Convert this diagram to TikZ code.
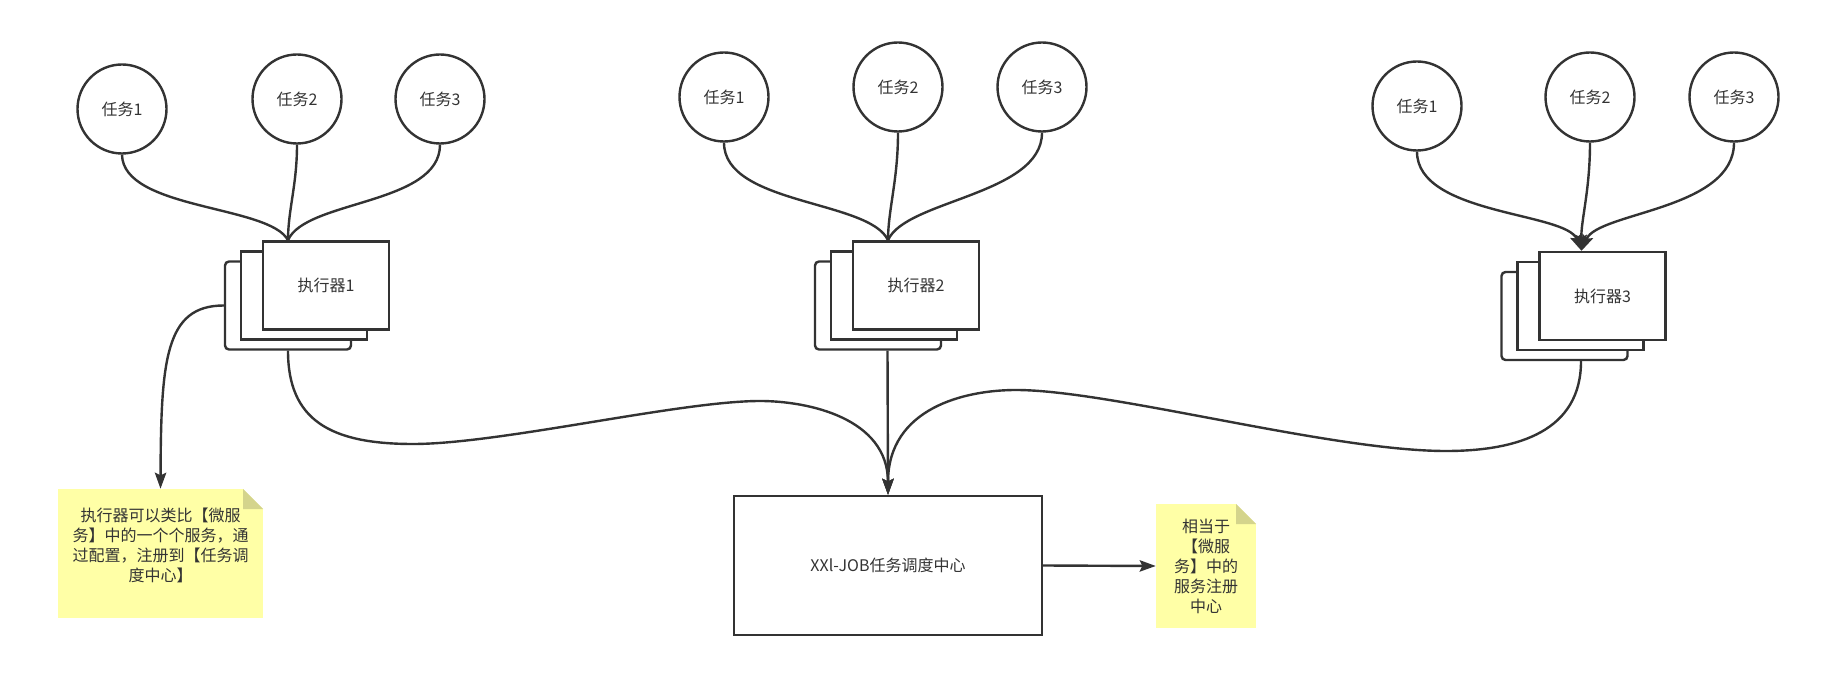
\documentclass[tikz,border=0pt]{standalone}
\usepackage{fontspec}
\setmainfont{Noto Sans CJK SC}
\usetikzlibrary{arrows.meta,calc}
\definecolor{ink}{HTML}{333333}
\definecolor{noteyellow}{HTML}{FFFFA6}
\definecolor{notefold}{HTML}{D4D48C}
\begin{document}
\begin{tikzpicture}[x=0.75pt,y=-0.75pt,
  every node/.style={text=ink,font=\fontsize{12}{15}\selectfont},
  task/.style={circle,draw=ink,line width=1.8pt,fill=white,minimum size=66.75pt,inner sep=0pt},
  card/.style={rectangle,draw=ink,line width=1.8pt,fill=white,minimum width=94.5pt,minimum height=66pt,inner sep=0pt},
  cardback/.style={card,rounded corners=3pt},
  hub/.style={rectangle,draw=ink,line width=1.8pt,fill=white,minimum width=231pt,minimum height=104.25pt},
  wire/.style={draw=ink,line width=1.8pt},
  tip/.style={-{Stealth[length=12pt,width=8.5pt,inset=2pt]}},
  notebox/.style={rectangle,fill=noteyellow,inner sep=0pt,
    path picture={
      \fill[white] ([xshift=-15pt]path picture bounding box.north east) -- (path picture bounding box.north east) -- ([yshift=-15pt]path picture bounding box.north east) -- cycle;
      \fill[notefold] ([xshift=-15pt]path picture bounding box.north east) -- ([xshift=-15pt,yshift=-15pt]path picture bounding box.north east) -- ([yshift=-15pt]path picture bounding box.north east) -- cycle;
    }},
  notetext/.style={align=center,inner sep=0pt}
]
\useasboundingbox (0,0) rectangle (1845,691);

% tasks
\node[task] (t11) at (122,109) {任务1};
\node[task] (t12) at (297,99) {任务2};
\node[task] (t13) at (440,99) {任务3};
\node[task] (t21) at (724,97) {任务1};
\node[task] (t22) at (898,87) {任务2};
\node[task] (t23) at (1042,87) {任务3};
\node[task] (t31) at (1417,106) {任务1};
\node[task] (t32) at (1590,97) {任务2};
\node[task] (t33) at (1734,97) {任务3};

% executor 1
\node[cardback] (b1) at (288,305.5) {};
\node[card] (m1) at (304,295.5) {};
\node[card] (f1) at (326,285.5) {执行器1};
% executor 2
\node[cardback] (b2) at (878,305.5) {};
\node[card] (m2) at (894,295.5) {};
\node[card] (f2) at (916,285.5) {执行器2};
% executor 3
\node[cardback] (b3) at (1564.5,316) {};
\node[card] (m3) at (1580.5,306) {};
\node[card] (f3) at (1602.5,296) {执行器3};

% hub
\node[hub] (hub) at (888,565.5) {XXl-JOB任务调度中心};

% notes
\node[notebox,minimum width=153.75pt,minimum height=96.75pt] (note1) at (160.5,553.5) {};
\node[notetext] (note1text) at ($(note1.center)+(0,-8)$) {执行器可以类比【微服\\务】中的一个个服务，通\\过配置，注册到【任务调\\度中心】};
\node[notebox,notetext,minimum width=75pt,minimum height=93pt] (note2) at (1206,566) {相当于\\【微服\\务】中的\\服务注册\\中心};

% tasks -> executor 1
\draw[wire] (t11.south) .. controls (123,210) and (270,205) .. ($(f1.north)+(-38,0)$);
\draw[wire] (t12.south) .. controls (297,185) and (288,210) .. ($(f1.north)+(-38,0)$);
\draw[wire] (t13.south) .. controls (440,205) and (305,200) .. ($(f1.north)+(-38,0)$);
% tasks -> executor 2
\draw[wire] (t21.south) .. controls (724,205) and (870,200) .. ($(f2.north)+(-28,0)$);
\draw[wire] (t22.south) .. controls (898,180) and (888,210) .. ($(f2.north)+(-28,0)$);
\draw[wire] (t23.south) .. controls (1042,195) and (905,200) .. ($(f2.north)+(-28,0)$);
% tasks -> executor 3 (arrows)
\draw[wire,tip] (t31.south) .. controls (1417,215) and (1566,212) .. ($(f3.north)+(-21,0)$);
\draw[wire,tip] (t32.south) .. controls (1590,190) and (1581,220) .. ($(f3.north)+(-21,0)$);
\draw[wire,tip] (t33.south) .. controls (1734,210) and (1598,212) .. ($(f3.north)+(-21,0)$);

% executors -> hub
\draw[wire,tip] (b1.south) .. controls (288,420) and (330,444) .. (413,444)
  .. controls (500,444) and (680,401) .. (760,401)
  .. controls (808,401) and (888,418) .. (hub.north);
\draw[wire,tip] ($(b2.south)+(9.5,0)$) -- (hub.north);
\draw[wire,tip] ($(b3.south)+(16.5,0)$) .. controls (1581,430) and (1520,451) .. (1446,451)
  .. controls (1330,451) and (1110,390) .. (1016,390)
  .. controls (965,390) and (888,408) .. (hub.north);

% executor 1 -> note 1
\draw[wire,tip] (b1.west) .. controls (165,305.5) and (161,360) .. (note1.north);
% hub -> note 2
\draw[wire,tip] (hub.east) -- (note2.west);
\end{tikzpicture}
\end{document}
